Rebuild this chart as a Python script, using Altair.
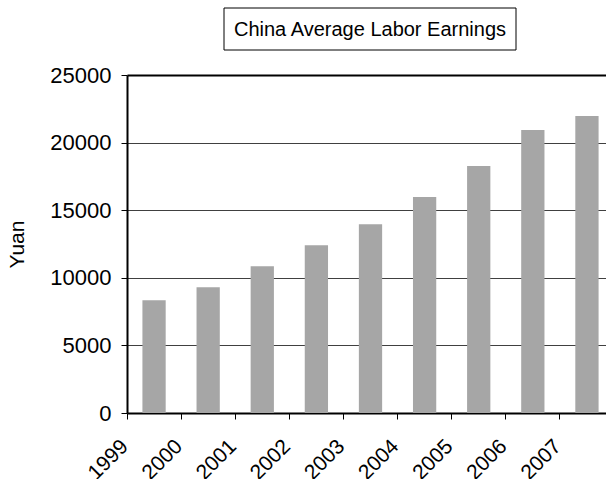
import altair as alt
import pandas as pd

years = ["1999", "2000", "2001", "2002", "2003", "2004", "2005", "2006", "2007"]
earnings = [8346, 9310, 10860, 12415, 13970, 15970, 18260, 20930, 21960]
y_ticks = [0, 5000, 10000, 15000, 20000, 25000]
title_text = ["China Average Labor Earnings"]
y_title = "Yuan"

df = pd.DataFrame({"year": years, "earnings": earnings})
FONT = "Liberation Sans"

bars = alt.Chart(df).mark_bar(
    color="#a6a6a6", width=alt.RelativeBandSize(0.43)
).encode(
    x=alt.X(
        "year:N",
        sort=years,
        scale=alt.Scale(paddingInner=0, paddingOuter=0, range=[0, 487]),
        axis=alt.Axis(
            title=None,
            bandPosition=0,
            labelAngle=315,
            labelAlign="right",
            labelBaseline="middle",
            labelPadding=24,
            labelOffset=-29,
            labelFontSize=21,
            labelFont=FONT,
            labelColor="black",
            tickSize=6,
            tickColor="black",
            tickWidth=1,
            domainColor="black",
            domainWidth=2,
            grid=False,
        ),
    ),
    y=alt.Y(
        "earnings:Q",
        scale=alt.Scale(domain=[0, 25000], nice=False),
        axis=alt.Axis(
            title=y_title,
            values=y_ticks,
            format="d",
            titleFont=FONT,
            titleFontSize=21,
            titleFontWeight="normal",
            titleColor="black",
            titlePadding=22,
            labelFont=FONT,
            labelFontSize=22,
            labelColor="black",
            labelPadding=10,
            tickSize=6,
            tickColor="black",
            tickWidth=1,
            domainColor="black",
            domainWidth=2,
            grid=True,
            gridColor={"condition": {"test": "datum.value === 25000", "value": "black"}, "value": "#404040"},
            gridWidth={"condition": {"test": "datum.value === 25000", "value": 2}, "value": 1},
        ),
    ),
)

title_df = pd.DataFrame({"t": title_text})
box = alt.Chart(title_df).mark_rect(fill="white", stroke="black", strokeWidth=1).encode(
    x=alt.value(97), x2=alt.value(389), y=alt.value(-67), y2=alt.value(-25)
)
title = alt.Chart(title_df).mark_text(
    font=FONT, fontSize=20, color="black", align="center", baseline="middle"
).encode(text="t:N", x=alt.value(243), y=alt.value(-45.5))

chart = alt.layer(bars, box, title).properties(
    width=479,
    height=338,
    autosize=alt.AutoSizeParams(type="none"),
    padding={"left": 127, "top": 75, "right": 0, "bottom": 66},
).configure_view(stroke="transparent")

chart.save("out.html", embed_options={"renderer": "svg", "actions": False})
